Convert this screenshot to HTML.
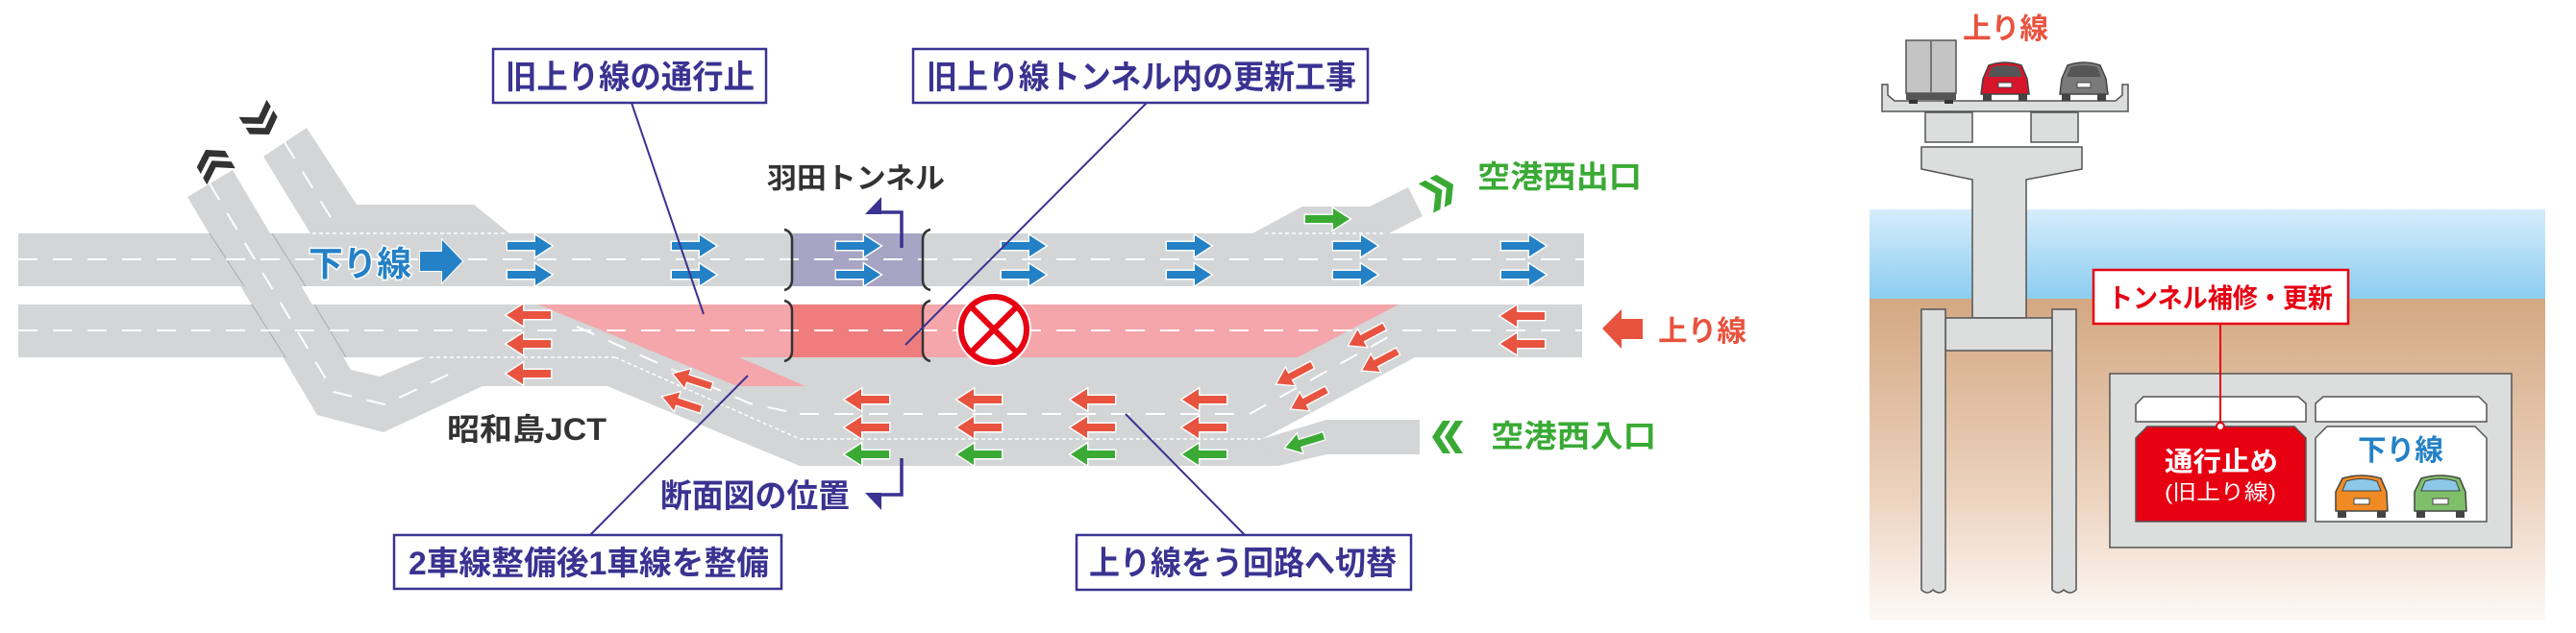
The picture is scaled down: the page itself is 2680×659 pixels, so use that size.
<!DOCTYPE html>
<html><head><meta charset="utf-8"><style>
html,body{margin:0;padding:0;background:#fff;}
svg{display:block;}
text{font-family:"Liberation Sans","Noto Sans CJK JP",sans-serif;font-weight:bold;}
</style></head><body>
<svg width="2680" height="659" viewBox="0 0 2680 659" xmlns="http://www.w3.org/2000/svg">
<defs>
<linearGradient id="water" x1="0" y1="0" x2="0" y2="1"><stop offset="0" stop-color="#d6edfb"/><stop offset="1" stop-color="#8ccdf0"/></linearGradient>
<linearGradient id="soil" x1="0" y1="0" x2="0" y2="1"><stop offset="0" stop-color="#d3a882"/><stop offset="0.6" stop-color="#ecd2bd"/><stop offset="1" stop-color="#fdf9f6"/></linearGradient>
<g id="ar"><polygon points="0,-4 29,-4 29,-11 46,0 29,11 29,4 0,4" stroke="#fff" stroke-width="3" stroke-linejoin="miter" paint-order="stroke"/></g>
<g id="chev"><polygon points="0,0 17,11 17,19 0,8 -17,19 -17,11"/><polygon points="0,13 17,24 17,32 0,21 -17,32 -17,24"/></g>
<g id="car"><path d="M-20,-18 Q0,-24 20,-18 L26,-4 L27,16 L-27,16 L-27,-4 Z" stroke="#444" stroke-width="1.5"/><path d="M-16,-15 Q0,-20 16,-15 L20,-5 L-20,-5 Z" fill="#8cc8e8" stroke="#444" stroke-width="1"/><rect x="-8" y="3" width="16" height="6" fill="#fff" stroke="#444" stroke-width="1"/><rect x="-25" y="16" width="9" height="7" fill="#444"/><rect x="16" y="16" width="9" height="7" fill="#444"/></g>
<g id="rcar"><path d="M-17,-14 Q0,-20 17,-14 L23,0 L25,16 L-25,16 L-23,0 Z" stroke="#444" stroke-width="1.5"/><path d="M-14,-12 Q0,-16 14,-12 L18,-2 L-18,-2 Z" fill="#555"/><rect x="-7" y="4" width="14" height="5" fill="#fff" stroke="#444" stroke-width="1"/><rect x="-23" y="16" width="9" height="7" fill="#444"/><rect x="14" y="16" width="9" height="7" fill="#444"/></g>
</defs>

<!-- ROADS -->
<g fill="#d3d5d6">
<polygon points="274,163 319,133 371,213 493,213 530,243 323,243"/>
<polygon points="195,205 242,177 365,385 395,392 447,370 502,402 399,450 330,432"/>
<rect x="19" y="243" width="1629" height="55"/>
<rect x="19" y="317" width="1627" height="55"/>
<polygon points="560,317 1455,317 1472,372 1313,457 1380,437 1477,437 1477,473 1380,473 1330,485 832,485 632,402 502,402 447,370"/>
<polygon points="832,403 1293,403 1313,457 1330,485 832,485"/>
<polygon points="1303,243 1355,215 1425,215 1465,195 1480,225 1445,243"/>
</g>
<g stroke="#a9abad" stroke-width="1"><line x1="218" y1="243" x2="254" y2="298"/><line x1="283" y1="243" x2="318" y2="298"/><line x1="262" y1="317" x2="297" y2="372"/><line x1="327" y1="317" x2="360" y2="372"/></g>
<polygon points="560,317 1455,317 1350,372 769,372 838,402 767,402" fill="#f4a6ab"/>
<rect x="823" y="317" width="137" height="55" fill="#ef7d7e"/>
<rect x="823" y="243" width="137" height="55" fill="#a7a4c4"/>
<g stroke="#fff" stroke-width="2" fill="none" stroke-dasharray="20 16">
<line x1="19" y1="270" x2="1648" y2="270"/>
<line x1="19" y1="344" x2="1646" y2="344"/>
<line x1="832" y1="431" x2="1300" y2="431"/>
<polyline points="600,340 700,385 780,420 832,431"/>
<polyline points="218,191 347,408 400,421 475,386"/>
<polyline points="296,148 345,228"/>
<polyline points="1300,431 1455,345"/>
</g>
<g stroke="#fff" stroke-width="1.5" fill="none" stroke-dasharray="4 3">
<line x1="832" y1="457" x2="1313" y2="457"/>
<line x1="325" y1="243" x2="525" y2="243"/>
<line x1="1316" y1="243" x2="1440" y2="243"/>
<line x1="447" y1="372" x2="640" y2="372"/>
<line x1="640" y1="372" x2="832" y2="457"/>
</g>

<g stroke="#333" stroke-width="2.5" fill="none">
<path d="M816,239 Q824,241 824,250 L824,291 Q824,300 816,302"/>
<path d="M816,313 Q824,315 824,324 L824,365 Q824,374 816,376"/>
<path d="M968,239 Q960,241 960,250 L960,291 Q960,300 968,302"/>
<path d="M968,313 Q960,315 960,324 L960,365 Q960,374 968,376"/>
</g>

<g fill="#2481c6">
<use href="#ar" x="528" y="256"/><use href="#ar" x="528" y="286"/>
<use href="#ar" x="699" y="256"/><use href="#ar" x="699" y="286"/>
<use href="#ar" x="870" y="256"/><use href="#ar" x="870" y="286"/>
<use href="#ar" x="1042" y="256"/><use href="#ar" x="1042" y="286"/>
<use href="#ar" x="1214" y="256"/><use href="#ar" x="1214" y="286"/>
<use href="#ar" x="1387" y="256"/><use href="#ar" x="1387" y="286"/>
<use href="#ar" x="1562" y="256"/><use href="#ar" x="1562" y="286"/>
</g>
<g fill="#e8533f">
<use href="#ar" transform="translate(573,328) scale(-1,1)"/>
<use href="#ar" transform="translate(573,358) scale(-1,1)"/>
<use href="#ar" transform="translate(573,389) scale(-1,1)"/>
<use href="#ar" transform="translate(1607,329) scale(-1,1)"/>
<use href="#ar" transform="translate(1607,358) scale(-1,1)"/>
<use href="#ar" transform="translate(925,416) scale(-1,1)"/><use href="#ar" transform="translate(925,445) scale(-1,1)"/>
<use href="#ar" transform="translate(1042,416) scale(-1,1)"/><use href="#ar" transform="translate(1042,445) scale(-1,1)"/>
<use href="#ar" transform="translate(1160,416) scale(-1,1)"/><use href="#ar" transform="translate(1160,445) scale(-1,1)"/>
<use href="#ar" transform="translate(1276,416) scale(-1,1)"/><use href="#ar" transform="translate(1276,445) scale(-1,1)"/>
<use href="#ar" transform="translate(740,402) rotate(198) scale(0.9)"/>
<use href="#ar" transform="translate(729,426) rotate(198) scale(0.9)"/>
<use href="#ar" transform="translate(1440,340) rotate(152) scale(0.9)"/>
<use href="#ar" transform="translate(1454,366) rotate(152) scale(0.9)"/>
<use href="#ar" transform="translate(1365,380) rotate(152) scale(0.9)"/>
<use href="#ar" transform="translate(1380,406) rotate(152) scale(0.9)"/>
</g>
<g fill="#3aaa35">
<use href="#ar" transform="translate(925,473) scale(-1,1)"/>
<use href="#ar" transform="translate(1042,473) scale(-1,1)"/>
<use href="#ar" transform="translate(1160,473) scale(-1,1)"/>
<use href="#ar" transform="translate(1276,473) scale(-1,1)"/>
<use href="#ar" transform="translate(1377,454) rotate(163) scale(0.9)"/>
<use href="#ar" x="1358" y="228"/>
</g>

<polygon points="437,262 460,262 460,250 481,272 460,294 460,282 437,282" fill="#2481c6" stroke="#fff" stroke-width="2" paint-order="stroke"/>
<polygon points="1709,332 1687,332 1687,322 1667,342 1687,363 1687,353 1709,353" fill="#e8533f"/>

<use href="#chev" fill="#333" transform="translate(214,156) rotate(-30)"/>
<use href="#chev" fill="#333" transform="translate(280,140) rotate(148)"/>
<use href="#chev" fill="#3aaa35" transform="translate(1512,192) rotate(63)"/>
<use href="#chev" fill="#3aaa35" transform="translate(1490,455) rotate(-90)"/>

<circle cx="1034" cy="343" r="39" fill="#fff"/>
<circle cx="1034" cy="343" r="34" fill="none" stroke="#e60012" stroke-width="6"/>
<g stroke="#e60012" stroke-width="6"><line x1="1011" y1="320" x2="1057" y2="366"/><line x1="1057" y1="320" x2="1011" y2="366"/></g>

<g stroke="#3a3391" stroke-width="3.5" fill="none">
<polyline points="938,258 938,221 913,221"/>
<polyline points="938,477 938,515 913,515"/>
</g>
<polygon points="900,223 917,205 917,223" fill="#3a3391"/>
<polygon points="900,513 917,513 917,531" fill="#3a3391"/>

<g stroke="#3a3391" stroke-width="2">
<line x1="657" y1="107" x2="732" y2="327"/>
<line x1="1193" y1="107" x2="942" y2="359"/>
<line x1="614" y1="557" x2="778" y2="391"/>
<line x1="1295" y1="557" x2="1171" y2="431"/>
</g>
<g fill="#fff" stroke="#3a3391" stroke-width="2.5">
<rect x="513" y="51" width="284" height="56"/>
<rect x="950" y="51" width="473" height="56"/>
<rect x="410" y="557" width="403" height="56"/>
<rect x="1120" y="557" width="348" height="57"/>
</g>
<g fill="#3a3391" font-size="34">
<text x="526" y="92" textLength="259" lengthAdjust="spacingAndGlyphs">旧上り線の通行止</text>
<text x="964" y="92" textLength="447" lengthAdjust="spacingAndGlyphs">旧上り線トンネル内の更新工事</text>
<text x="425" y="598" textLength="375" lengthAdjust="spacingAndGlyphs">2車線整備後1車線を整備</text>
<text x="1133" y="598" textLength="320" lengthAdjust="spacingAndGlyphs">上り線をう回路へ切替</text>
<text x="687" y="528" textLength="197" lengthAdjust="spacingAndGlyphs">断面図の位置</text>
</g>
<text x="465" y="458" font-size="32" fill="#333" textLength="166" lengthAdjust="spacingAndGlyphs">昭和島JCT</text>
<text x="798" y="196" font-size="30" fill="#333" textLength="185" lengthAdjust="spacingAndGlyphs">羽田トンネル</text>
<text x="321" y="287" font-size="36" fill="#2481c6" stroke="#fff" stroke-width="3" paint-order="stroke" textLength="107" lengthAdjust="spacingAndGlyphs">下り線</text>
<text x="1537" y="195" font-size="32" fill="#3aaa35" textLength="171" lengthAdjust="spacingAndGlyphs">空港西出口</text>
<text x="1551" y="465" font-size="32" fill="#3aaa35" textLength="172" lengthAdjust="spacingAndGlyphs">空港西入口</text>
<text x="1725" y="355" font-size="30" fill="#e8533f" textLength="92" lengthAdjust="spacingAndGlyphs">上り線</text>

<!-- CROSS SECTION -->
<rect x="1945" y="218" width="703" height="93" fill="url(#water)"/>
<rect x="1945" y="311" width="703" height="335" fill="url(#soil)"/>
<g fill="#dcdddd" stroke="#555" stroke-width="1.5">
<path d="M1958,88 L1964,88 L1964,99 L1971,105 L2201,105 L2208,99 L2208,88 L2214,88 L2214,116 L1958,116 Z"/>
<rect x="2003" y="117" width="49" height="31"/>
<rect x="2113" y="117" width="49" height="31"/>
<polygon points="1999,153 2166,153 2166,176 2108,187 2108,331 2052,331 2052,187 1999,176"/>
<rect x="2024" y="331" width="111" height="34"/>
<path d="M1999,322 L2024,322 L2024,614 Q2018,620 2011,614 Q2005,620 1999,614 Z"/>
<path d="M2135,322 L2160,322 L2160,614 Q2154,620 2147,614 Q2141,620 2135,614 Z"/>
<rect x="2195" y="389" width="418" height="181"/>
</g>
<g fill="#fff" stroke="#555" stroke-width="1.5">
<polygon points="2230,413 2391,413 2399,420 2399,439 2222,439 2222,421"/>
<polygon points="2417,413 2579,413 2587,421 2587,439 2409,439 2409,420"/>
<polygon points="2421,444 2575,444 2587,456 2587,543 2409,543 2409,456"/>
</g>
<polygon points="2234,444 2387,444 2399,456 2399,543 2222,543 2222,456" fill="#e60012" stroke="#555" stroke-width="1.5"/>
<rect x="1983" y="42" width="52" height="55" fill="#c4c4c4" stroke="#555" stroke-width="1.5"/>
<line x1="2009" y1="42" x2="2009" y2="97" stroke="#777" stroke-width="2"/>
<rect x="1983" y="97" width="52" height="7" fill="#555"/>
<rect x="1986" y="104" width="9" height="4" fill="#333"/><rect x="2023" y="104" width="9" height="4" fill="#333"/>
<use href="#rcar" fill="#d6152a" transform="translate(2086,82)"/>
<use href="#rcar" fill="#7a7a7a" transform="translate(2168,82)"/>
<use href="#car" fill="#f08a24" transform="translate(2457,516)"/>
<use href="#car" fill="#7fbf6a" transform="translate(2539,516)"/>
<line x1="2310" y1="337" x2="2310" y2="444" stroke="#e60012" stroke-width="2"/>
<circle cx="2310" cy="444" r="4" fill="#fff" stroke="#e60012" stroke-width="2"/>
<rect x="2178" y="281" width="265" height="56" fill="#fff" stroke="#e60012" stroke-width="2.5"/>
<text x="2193" y="320" font-size="28" fill="#e60012" textLength="234" lengthAdjust="spacingAndGlyphs">トンネル補修・更新</text>
<text x="2042" y="40" font-size="30" fill="#e8533f" textLength="89" lengthAdjust="spacingAndGlyphs">上り線</text>
<text x="2252" y="490" font-size="28" fill="#fff" textLength="118" lengthAdjust="spacingAndGlyphs">通行止め</text>
<text x="2252" y="520" font-size="22" fill="#fff" style="font-weight:normal" textLength="116" lengthAdjust="spacingAndGlyphs">(旧上り線)</text>
<text x="2453" y="479" font-size="30" fill="#2481c6" textLength="89" lengthAdjust="spacingAndGlyphs">下り線</text>
</svg>
</body></html>
